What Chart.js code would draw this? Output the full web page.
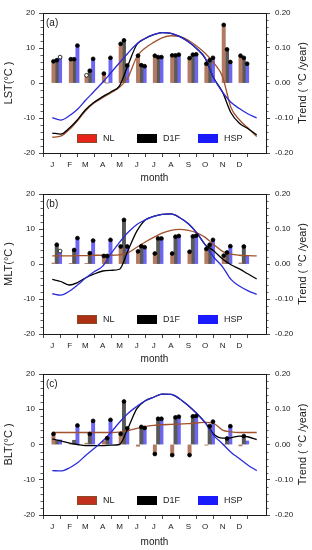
<!DOCTYPE html>
<html>
<head>
<meta charset="utf-8">
<script src="https://cdn.jsdelivr.net/npm/chart.js@4.4.1/dist/chart.umd.min.js"></script>
<style>
  html, body { margin: 0; padding: 0; background: #fff; }
  #wrap { position: relative; width: 312px; height: 550px; overflow: hidden; }
  canvas { position: absolute; left: 0; }
</style>
</head>
<body>
<div id="wrap">
  <canvas id="panelA" width="312" height="186" style="top:0px"></canvas>
  <canvas id="panelB" width="312" height="186" style="top:181px"></canvas>
  <canvas id="panelC" width="312" height="189" style="top:361px"></canvas>
</div>
<script>
// month axis
const monthLabels = ['J', 'F', 'M', 'A', 'M', 'J', 'J', 'A', 'S', 'O', 'N', 'D'];
const monthStart = [0, 31, 59, 90, 120, 151, 181, 212, 243, 273, 304, 334];
// day of year for the temperature curves
const days = [0, 15, 31, 45, 59, 74, 90, 105, 120, 135, 151, 166, 181, 196, 212, 227, 243, 258, 273, 288, 304, 319, 334, 349, 365];

// (a) LST
const nlTempA  = [-15.5, -15.2, -13.2, -10.8, -8.0, -5.8, -4.2, -2.8, -1.2, 1.5, 7.5, 10.0, 11.6, 12.9, 13.5, 13.3, 12.2, 10.5, 8.5, 5.8, 1.8, -7.0, -10.5, -12.8, -15.3];
const d1fTempA = [-14.3, -14.6, -12.8, -10.5, -7.7, -5.6, -3.9, -2.5, -0.8, 5.0, 11.0, 12.7, 13.8, 14.4, 14.2, 13.3, 11.8, 9.8, 7.0, 1.5, -2.6, -8.5, -11.5, -13.0, -14.8];
const hspTempA = [-9.9, -10.6, -9.3, -7.5, -5.0, -2.5, 0.2, 3.0, 5.8, 8.5, 11.2, 12.8, 13.8, 14.4, 14.2, 13.3, 11.8, 9.8, 7.2, 1.5, -2.6, -5.5, -7.3, -8.8, -10.0];
const nlTrendA  = [0.062, 0.068, 0.022, 0.027, 0.112, 0.078, 0.078, 0.079, 0.071, 0.055, 0.166, 0.078];
const d1fTrendA = [0.065, 0.068, 0.035, 0.0, 0.122, 0.051, 0.074, 0.079, 0.081, 0.065, 0.096, 0.072];
const hspTrendA = [0.074, 0.107, 0.069, 0.072, 0.050, 0.048, 0.074, 0.081, 0.082, 0.072, 0.060, 0.055];
// 1 = significant (filled dot), 2 = open dot, 0 = none
const nlSigA  = [1, 1, 2, 1, 1, 1, 1, 1, 1, 1, 1, 1];
const d1fSigA = [1, 1, 1, 0, 1, 1, 1, 1, 1, 1, 1, 1];
const hspSigA = [2, 1, 1, 1, 1, 1, 1, 1, 1, 1, 1, 1];

// (b) MLT
const nlTempB  = [2.3, 2.3, 2.3, 2.4, 2.4, 2.5, 2.5, 2.5, 2.6, 3.2, 4.8, 6.3, 7.6, 8.8, 9.6, 9.9, 9.6, 8.9, 7.6, 5.6, 3.6, 2.8, 2.5, 2.4, 2.3];
const d1fTempB = [-4.4, -5.0, -6.0, -5.3, -4.0, -2.9, -2.0, -1.8, -1.5, 3.8, 9.4, 12.6, 13.6, 14.2, 14.3, 13.3, 11.5, 8.9, 5.5, 3.8, 1.4, -0.2, -1.4, -2.8, -4.3];
const hspTempB = [-8.5, -8.9, -7.7, -6.0, -4.1, -2.3, -0.6, 3.0, 6.2, 9.0, 11.3, 12.6, 13.6, 14.2, 14.3, 13.3, 11.5, 8.9, 5.5, 2.0, -0.8, -4.4, -6.3, -7.6, -8.7];
const nlTrendB  = [0.003, 0.002, 0.002, 0.023, 0.050, 0.036, 0.030, 0.030, 0.035, 0.043, 0.024, 0.003];
const d1fTrendB = [0.055, 0.040, 0.031, 0.023, 0.126, 0.051, 0.073, 0.078, 0.079, 0.055, 0.033, 0.050];
const hspTrendB = [0.037, 0.074, 0.067, 0.069, 0.050, 0.048, 0.073, 0.080, 0.081, 0.069, 0.051, 0.023];
const nlSigB  = [0, 0, 0, 1, 1, 1, 1, 1, 1, 1, 1, 0];
const d1fSigB = [1, 1, 1, 1, 1, 1, 1, 1, 1, 1, 1, 1];
const hspSigB = [2, 1, 1, 1, 1, 1, 1, 1, 1, 1, 1, 0];

// (c) BLT
const nlTempC  = [3.4, 3.4, 3.4, 3.4, 3.4, 3.4, 3.4, 3.4, 3.5, 3.9, 4.6, 5.1, 5.4, 5.6, 5.7, 5.8, 5.9, 6.1, 6.3, 6.0, 4.1, 3.6, 3.4, 3.4, 3.4];
const d1fTempC = [1.6, 1.0, 0.4, 0.0, -0.3, -0.3, -0.3, -0.2, 0.0, 4.6, 10.2, 12.4, 13.4, 14.3, 14.2, 13.0, 11.0, 8.8, 6.2, 3.0, 1.8, 1.9, 2.4, 2.2, 1.4];
const hspTempC = [-7.4, -7.5, -6.6, -5.2, -3.2, -1.2, 1.0, 3.5, 6.3, 8.8, 10.8, 12.4, 13.4, 14.3, 14.2, 13.0, 11.0, 8.8, 6.2, 2.6, 0.2, -2.2, -4.0, -5.8, -7.4];
const nlTrendC  = [0.030, 0.002, 0.004, 0.011, 0.030, -0.005, -0.027, -0.030, -0.030, -0.002, -0.001, -0.004];
const d1fTrendC = [0.011, 0.012, 0.030, 0.018, 0.122, 0.050, 0.073, 0.077, 0.080, 0.052, 0.017, 0.024];
const hspTrendC = [0.013, 0.054, 0.067, 0.070, 0.046, 0.047, 0.073, 0.079, 0.081, 0.065, 0.052, 0.010];
const nlSigC  = [1, 0, 0, 0, 1, 0, 1, 1, 1, 0, 0, 0];
const d1fSigC = [0, 0, 1, 1, 1, 1, 1, 1, 1, 1, 1, 1];
const hspSigC = [0, 1, 1, 1, 1, 1, 1, 1, 1, 1, 1, 0];

const FONT = "'Liberation Sans', Arial, sans-serif";
const INK = '#1a1a1a';

// dots on top of the trend bars
const sigDots = {
  id: 'sigDots',
  afterDatasetsDraw(chart) {
    const ctx = chart.ctx;
    chart.data.datasets.forEach((ds, i) => {
      if (!ds.sig) return;
      chart.getDatasetMeta(i).data.forEach((bar, j) => {
        const m = ds.sig[j];
        if (!m) return;
        ctx.beginPath();
        ctx.arc(bar.x, bar.y, 1.9, 0, Math.PI * 2);
        ctx.fillStyle = m === 1 ? '#000' : '#fff';
        ctx.fill();
        ctx.lineWidth = 0.8;
        ctx.strokeStyle = '#000';
        ctx.stroke();
      });
    });
  }
};

// frame, minor ticks, panel tag, legend, right title
const decor = {
  id: 'decor',
  afterDraw(chart) {
    const ctx = chart.ctx;
    const a = chart.chartArea;
    const o = chart.options.plugins.decor;
    const yl = chart.scales.y, yr = chart.scales.y2;
    ctx.save();
    ctx.strokeStyle = INK;
    ctx.lineWidth = 1;
    ctx.beginPath();
    ctx.moveTo(a.left, a.top + 0.5);
    ctx.lineTo(a.right, a.top + 0.5);
    ctx.stroke();

    ctx.lineWidth = 0.7;
    ctx.beginPath();
    for (let v = -20; v <= 20; v += 2) {
      if (v % 10 === 0) continue;
      const p = Math.round(yl.getPixelForValue(v)) + 0.5;
      ctx.moveTo(a.left - 2.5, p); ctx.lineTo(a.left, p);
      const q = Math.round(yr.getPixelForValue(v / 100)) + 0.5;
      ctx.moveTo(a.right, q); ctx.lineTo(a.right + 2.5, q);
    }
    ctx.stroke();

    ctx.fillStyle = INK;
    ctx.font = '10px ' + FONT;
    ctx.textBaseline = 'middle';
    ctx.textAlign = 'left';
    ctx.fillText(o.tag, a.left + 3, a.top + 10);

    // legend inside the plot
    const ly = a.bottom - 14.5;
    const items = [
      { t: 'NL', c: o.nlLegend, b: '#8a4a2a', x: 34 },
      { t: 'D1F', c: '#000', b: '#000', x: 94 },
      { t: 'HSP', c: '#1a1aff', b: '#1a1aff', x: 155 }
    ];
    ctx.font = '9px ' + FONT;
    items.forEach(it => {
      ctx.fillStyle = it.c;
      ctx.fillRect(a.left + it.x, ly - 4.5, 20, 9);
      ctx.strokeStyle = it.b;
      ctx.lineWidth = 1;
      ctx.strokeRect(a.left + it.x + 0.5, ly - 4, 19, 8);
      ctx.fillStyle = INK;
      ctx.fillText(it.t, a.left + it.x + 26, ly + 0.5);
    });

    // right axis title, read bottom to top like the left one
    ctx.translate(chart.width - 9, (a.top + a.bottom) / 2);
    ctx.rotate(-Math.PI / 2);
    ctx.textAlign = 'center';
    ctx.font = '11px ' + FONT;
    ctx.fillText('Trend ( °C /year)', 0, 0);
    ctx.restore();
  }
};

function barSet(label, vals, sig, color) {
  return {
    type: 'bar',
    label: label,
    data: vals.map((v, i) => ({ x: monthStart[i] + 8, y: v })),
    sig: sig,
    xAxisID: 'x',
    yAxisID: 'y2',
    backgroundColor: color,
    borderWidth: 0,
    barThickness: 3.3,
    order: 10
  };
}

function lineSet(label, vals, color, order) {
  return {
    type: 'line',
    label: label,
    data: vals.map((v, i) => ({ x: days[i], y: v })),
    xAxisID: 'x',
    yAxisID: 'y',
    borderColor: color,
    borderWidth: 1.3,
    pointRadius: 0,
    fill: false,
    cubicInterpolationMode: 'monotone',
    order: order
  };
}

function makePanel(id, p) {
  const ctx = document.getElementById(id).getContext('2d');
  new Chart(ctx, {
    data: {
      datasets: [
        barSet('NL', p.nlTrend, p.nlSig, '#b27a62'),
        barSet('D1F', p.d1fTrend, p.d1fSig, '#595959'),
        barSet('HSP', p.hspTrend, p.hspSig, '#6d66f2'),
        lineSet('NL', p.nlTemp, '#a0522d', 3),
        lineSet('D1F', p.d1fTemp, '#000000', 2),
        lineSet('HSP', p.hspTemp, '#2b2bdc', 1)
      ]
    },
    options: {
      responsive: false,
      animation: false,
      layout: { padding: { top: 13, bottom: 0, left: 0, right: 0 } },
      plugins: {
        legend: { display: false },
        tooltip: { enabled: false },
        decor: { tag: p.tag, nlLegend: p.nlLegend }
      },
      scales: {
        x: {
          type: 'linear',
          min: 0,
          max: 365,
          afterBuildTicks: s => { s.ticks = monthStart.map(v => ({ value: v })); },
          afterFit: s => { s.height = p.xHeight; },
          ticks: {
            autoSkip: false,
            maxRotation: 0,
            padding: 3,
            color: INK,
            font: { family: FONT, size: 8 },
            callback: (v, i) => monthLabels[i]
          },
          grid: { display: true, drawOnChartArea: false, drawTicks: true, tickLength: 4, color: INK, lineWidth: 0.8 },
          border: { display: true, color: INK, width: 1 },
          title: { display: true, text: 'month', color: INK, font: { family: FONT, size: 10 }, padding: { top: 2, bottom: 2 } }
        },
        y: {
          position: 'left',
          min: -20,
          max: 20,
          afterFit: s => { s.width = 43; },
          ticks: { stepSize: 10, padding: 4, color: INK, font: { family: FONT, size: 8 } },
          grid: { display: true, drawOnChartArea: false, drawTicks: true, tickLength: 4, color: INK, lineWidth: 0.8 },
          border: { display: true, color: INK, width: 1 },
          title: { display: true, text: p.yTitle, color: INK, font: { family: FONT, size: 11 }, padding: { top: 2, bottom: 2 } }
        },
        y2: {
          position: 'right',
          min: -0.2,
          max: 0.2,
          afterFit: s => { s.width = 46; },
          ticks: {
            stepSize: 0.1,
            padding: 5,
            color: INK,
            font: { family: FONT, size: 8 },
            callback: v => (Math.abs(v) < 1e-9 ? 0 : v).toFixed(2)
          },
          grid: { display: true, drawOnChartArea: false, drawTicks: true, tickLength: 4, color: INK, lineWidth: 0.8 },
          border: { display: true, color: INK, width: 1 }
        }
      }
    },
    plugins: [sigDots, decor]
  });
}

makePanel('panelA', {
  tag: '(a)', yTitle: 'LST(°C )', nlLegend: '#e8231a', xHeight: 33,
  nlTemp: nlTempA, d1fTemp: d1fTempA, hspTemp: hspTempA,
  nlTrend: nlTrendA, d1fTrend: d1fTrendA, hspTrend: hspTrendA,
  nlSig: nlSigA, d1fSig: d1fSigA, hspSig: hspSigA
});
makePanel('panelB', {
  tag: '(b)', yTitle: 'MLT(°C )', nlLegend: '#ae3012', xHeight: 33,
  nlTemp: nlTempB, d1fTemp: d1fTempB, hspTemp: hspTempB,
  nlTrend: nlTrendB, d1fTrend: d1fTrendB, hspTrend: hspTrendB,
  nlSig: nlSigB, d1fSig: d1fSigB, hspSig: hspSigB
});
makePanel('panelC', {
  tag: '(c)', yTitle: 'BLT(°C )', nlLegend: '#c0301c', xHeight: 35,
  nlTemp: nlTempC, d1fTemp: d1fTempC, hspTemp: hspTempC,
  nlTrend: nlTrendC, d1fTrend: d1fTrendC, hspTrend: hspTrendC,
  nlSig: nlSigC, d1fSig: d1fSigC, hspSig: hspSigC
});
</script>
</body>
</html>
